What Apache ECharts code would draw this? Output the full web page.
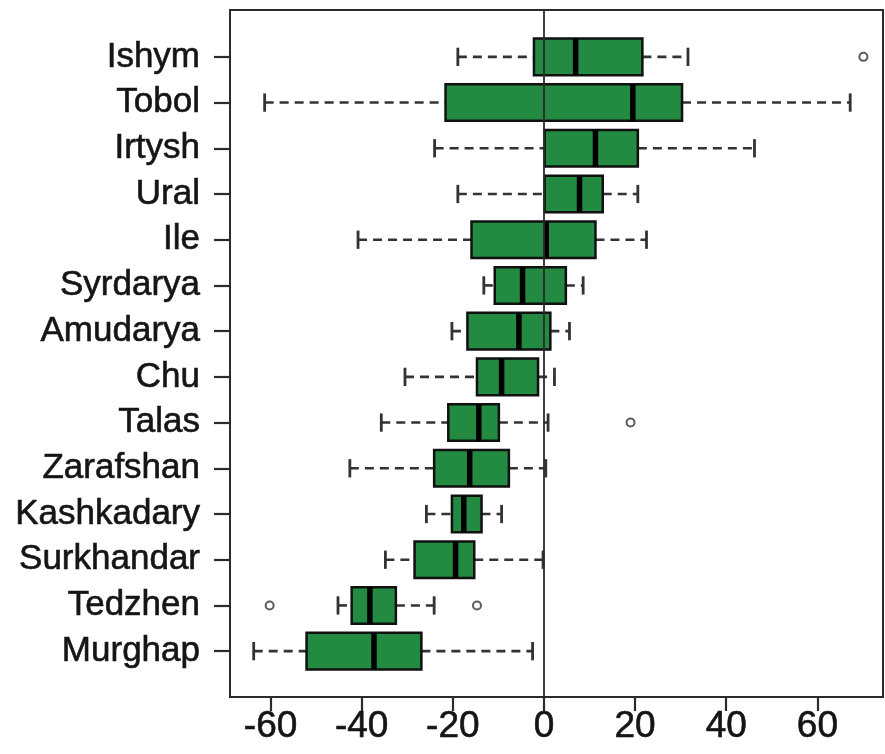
<!DOCTYPE html>
<html>
<head>
<meta charset="utf-8">
<script src="https://cdn.jsdelivr.net/npm/echarts@6/dist/echarts.min.js"></script>
<style>
html,body{margin:0;padding:0;background:#fff;}
#chart{width:885px;height:754px;}
</style>
</head>
<body>
<div id="chart"></div>
<script>
const categories = ['Ishym','Tobol','Irtysh','Ural','Ile','Syrdarya','Amudarya','Chu','Talas','Zarafshan','Kashkadary','Surkhandar','Tedzhen','Murghap'];
const lowWhisker  = [-18.9, -61.3, -24.0, -18.9, -40.8, -13.2, -20.2, -30.5, -35.7, -42.6, -25.8, -34.8, -45.2, -63.7];
const q1          = [ -2.2, -21.6,   0.15,  0.15, -15.9, -10.8, -16.8, -14.7, -21.0, -24.1, -20.2, -28.4, -42.2, -52.1];
const median      = [  6.95, 19.5,  11.3,   7.8,   0.5,  -4.7,  -5.5,  -9.3, -14.3, -16.3, -17.6, -19.4, -38.2, -37.3];
const q3          = [ 21.6,  30.3,  20.6,  12.9,  11.3,   4.8,   1.4,  -1.3,  -9.9,  -7.7, -13.7, -15.3, -32.5, -26.9];
const highWhisker = [ 31.6,  67.2,  46.2,  20.6,  22.5,   8.6,   5.6,   2.3,   0.9,   0.4,  -9.3,  -0.2, -24.1,  -2.5];
const outlierCategory = ['Ishym','Talas','Tedzhen','Tedzhen'];
const outlierValue    = [70.1, 19.0, -60.2, -14.7];
const xTickValues = [-60,-40,-20,0,20,40,60];

const boxData = categories.map((c,i)=>[i, lowWhisker[i], q1[i], median[i], q3[i], highWhisker[i]]);
const outlierData = outlierCategory.map((c,i)=>[outlierValue[i], c]);

const X_MIN = -68.9, X_MAX = 74.4;
const chart = echarts.init(document.getElementById('chart'), null, {renderer:'canvas'});
const textColor = '#151515';
const lineColor = '#2b2b2b';
const fontFamily = 'Liberation Sans, Arial, sans-serif';

chart.setOption({
  animation:false,
  backgroundColor:'#fff',
  grid:[
    {left:230, right:2, top:34, height:640, show:false},
    {left:230, right:2, top:10, bottom:57, show:true, borderColor:lineColor, borderWidth:2, backgroundColor:'transparent'}
  ],
  xAxis:[
    {type:'value', gridIndex:0, min:X_MIN, max:X_MAX, offset:23,
     axisLine:{show:true, onZero:false, lineStyle:{color:lineColor, width:2}},
     axisTick:{show:true, customValues:xTickValues, length:14, lineStyle:{color:lineColor, width:2.2}},
     axisLabel:{show:true, customValues:xTickValues, fontSize:37, color:textColor, fontFamily:fontFamily, margin:11,
                textBorderColor:textColor, textBorderWidth:0.6},
     splitLine:{show:false}},
    {type:'value', gridIndex:1, min:X_MIN, max:X_MAX, show:false, splitLine:{show:false}}
  ],
  yAxis:[
    {type:'category', gridIndex:0, data:categories, inverse:true,
     axisLine:{show:true, onZero:false, lineStyle:{color:lineColor, width:2}},
     axisTick:{show:true, alignWithLabel:true, length:16, lineStyle:{color:lineColor, width:2.2}},
     axisLabel:{fontSize:35, color:textColor, fontFamily:fontFamily, margin:30,
                textBorderColor:textColor, textBorderWidth:0.6},
     splitLine:{show:false}},
    {type:'value', gridIndex:1, min:0, max:1, show:false, splitLine:{show:false}}
  ],
  series:[
    {
      type:'custom',
      xAxisIndex:0, yAxisIndex:0,
      data:boxData,
      encode:{x:[1,2,3,4,5], y:0},
      z:2,
      renderItem:function(params, api){
        const idx = api.value(0);
        const lo = api.coord([api.value(1), idx]);
        const b1 = api.coord([api.value(2), idx]);
        const md = api.coord([api.value(3), idx]);
        const b3 = api.coord([api.value(4), idx]);
        const hi = api.coord([api.value(5), idx]);
        const band = api.size([0,1])[1];
        const h = band*0.8;
        const y = lo[1];
        const dashStyle = {stroke:'#333', lineWidth:2.6, lineDash:[9,6]};
        const capStyle = {stroke:'#333', lineWidth:2.8};
        return {type:'group', children:[
          {type:'line', shape:{x1:lo[0], y1:y, x2:b1[0], y2:y}, style:dashStyle},
          {type:'line', shape:{x1:b3[0], y1:y, x2:hi[0], y2:y}, style:dashStyle},
          {type:'line', shape:{x1:lo[0], y1:y-h/4, x2:lo[0], y2:y+h/4}, style:capStyle},
          {type:'line', shape:{x1:hi[0], y1:y-h/4, x2:hi[0], y2:y+h/4}, style:capStyle},
          {type:'rect', shape:{x:b1[0], y:y-h/2, width:b3[0]-b1[0], height:h}, style:{fill:'#228a41', stroke:'#111', lineWidth:2.5}},
          {type:'line', shape:{x1:md[0], y1:y-h/2, x2:md[0], y2:y+h/2}, style:{stroke:'#000', lineWidth:5.5}}
        ]};
      }
    },
    {
      type:'scatter', xAxisIndex:0, yAxisIndex:0,
      data:outlierData,
      symbol:'circle', symbolSize:8,
      itemStyle:{color:'#fff', borderColor:'#333', borderWidth:2},
      z:3
    },
    {
      type:'scatter', xAxisIndex:1, yAxisIndex:1,
      data:[],
      z:5,
      markLine:{
        silent:true, symbol:'none',
        label:{show:false},
        lineStyle:{color:lineColor, width:1.8, type:'solid'},
        data:[{xAxis:0}]
      }
    }
  ]
});
</script>
</body>
</html>
